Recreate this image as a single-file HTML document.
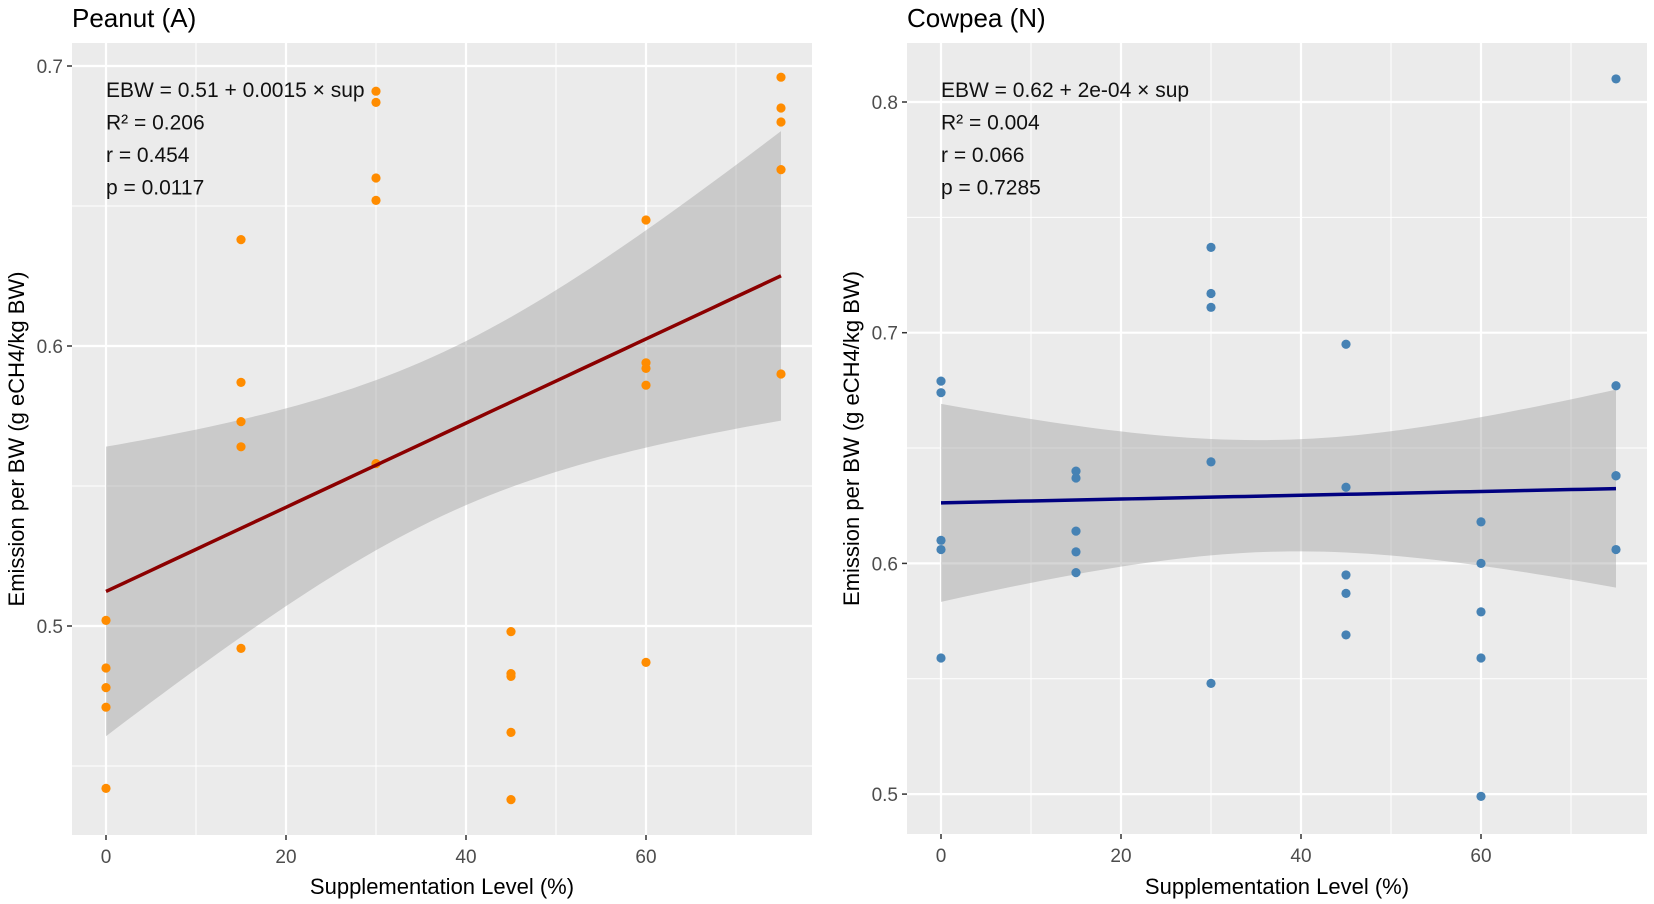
<!DOCTYPE html>
<html><head><meta charset="utf-8"><style>
html,body{margin:0;padding:0;background:#fff;}
svg{display:block;font-family:"Liberation Sans",Arial,sans-serif;}
</style></head><body>
<svg id="chart" width="1654" height="904" viewBox="0 0 1654 904" xmlns="http://www.w3.org/2000/svg"></svg>
<script>
// ---- data ----
const xCategories = [0, 15, 30, 45, 60, 75];
const peanutX = [0,0,0,0,0, 15,15,15,15,15, 30,30,30,30,30, 45,45,45,45,45, 60,60,60,60,60, 75,75,75,75,75];
const peanutY = [0.502,0.485,0.478,0.471,0.442, 0.638,0.587,0.573,0.564,0.492, 0.691,0.687,0.660,0.652,0.558, 0.498,0.483,0.482,0.462,0.438, 0.645,0.594,0.592,0.586,0.487, 0.696,0.685,0.680,0.663,0.590];
const cowpeaX = [0,0,0,0,0, 15,15,15,15,15, 30,30,30,30,30, 45,45,45,45,45, 60,60,60,60,60, 75,75,75,75,75];
const cowpeaY = [0.679,0.674,0.610,0.606,0.559, 0.640,0.637,0.614,0.605,0.596, 0.737,0.717,0.711,0.644,0.548, 0.695,0.633,0.595,0.587,0.569, 0.618,0.600,0.579,0.559,0.499, 0.810,0.677,0.638,0.638,0.606];
const peanutYTicks = [0.5, 0.6, 0.7];
const peanutYMinor = [0.45, 0.55, 0.65];
const cowpeaYTicks = [0.5, 0.6, 0.7, 0.8];
const cowpeaYMinor = [0.55, 0.65, 0.75];
const xTicks = [0, 20, 40, 60];
const xMinor = [10, 30, 50, 70];
const peanutStats = ["EBW = 0.51 + 0.0015 × sup", "R² = 0.206", "r = 0.454", "p = 0.0117"];
const cowpeaStats = ["EBW = 0.62 + 2e-04 × sup", "R² = 0.004", "r = 0.066", "p = 0.7285"];

const svg = document.getElementById('chart');
const NS = 'http://www.w3.org/2000/svg';
function mk(tag, attrs, parent){
  const e = document.createElementNS(NS, tag);
  for (const k in attrs) e.setAttribute(k, attrs[k]);
  (parent||svg).appendChild(e);
  return e;
}

function panel(cfg){
  const g = mk('g', {});
  
  
  const sx = v => cfg.x0 + (v - 0) * cfg.xs;
  const sy = v => cfg.yRef + (cfg.vRef - v) * cfg.ys;
  const bg = mk('rect', {x:cfg.left, y:cfg.top, width:cfg.right-cfg.left, height:cfg.bottom-cfg.top, fill:'#EBEBEB'}, g);
  
  
  cfg.yMinor.forEach(v => mk('line', {x1:cfg.left, x2:cfg.right, y1:sy(v), y2:sy(v), stroke:'#fff', 'stroke-width':1}, g));
  xMinor.forEach(v => mk('line', {x1:sx(v), x2:sx(v), y1:cfg.top, y2:cfg.bottom, stroke:'#fff', 'stroke-width':1}, g));
  cfg.yTicks.forEach(v => {
    mk('line', {x1:cfg.left, x2:cfg.right, y1:sy(v), y2:sy(v), stroke:'#fff', 'stroke-width':2.2}, g);
    mk('line', {x1:cfg.left-5, x2:cfg.left, y1:sy(v), y2:sy(v), stroke:'#333', 'stroke-width':1.5}, g);
    const t = mk('text', {x:cfg.left-9, y:sy(v)+7, 'text-anchor':'end', 'font-size':19, fill:'#4D4D4D'}, g);
    t.textContent = v.toFixed(1);
    
    
  });
  xTicks.forEach(v => {
    mk('line', {x1:sx(v), x2:sx(v), y1:cfg.top, y2:cfg.bottom, stroke:'#fff', 'stroke-width':2.2}, g);
    mk('line', {x1:sx(v), x2:sx(v), y1:cfg.bottom, y2:cfg.bottom+5, stroke:'#333', 'stroke-width':1.5}, g);
    const t = mk('text', {x:sx(v), y:cfg.bottom+28, 'text-anchor':'middle', 'font-size':19, fill:'#4D4D4D'}, g);
    t.textContent = v;
    
    
  });
  const X = cfg.xs_data, Y = cfg.ys_data, n = X.length;
  const mx = X.reduce((a,b)=>a+b,0)/n, my = Y.reduce((a,b)=>a+b,0)/n;
  let sxx=0, sxy=0;
  for (let i=0;i<n;i++){ sxx += (X[i]-mx)**2; sxy += (X[i]-mx)*(Y[i]-my); }
  const b = sxy/sxx, a = my - b*mx;
  let sse = 0; for (let i=0;i<n;i++) sse += (Y[i]-a-b*X[i])**2;
  const s = Math.sqrt(sse/(n-2)), tcrit = 2.05;
  const xmin = Math.min(...X), xmax = Math.max(...X);
  const up = [], lo = [], ln = [];
  for (let k=0;k<=60;k++){
    const xv = xmin + (xmax-xmin)*k/60;
    const yv = a + b*xv;
    const hw = tcrit * s * Math.sqrt(1/n + (xv-mx)**2/sxx);
    up.push(sx(xv)+','+sy(yv+hw));
    lo.unshift(sx(xv)+','+sy(yv-hw));
    ln.push(sx(xv)+','+sy(yv));
  }
  const band = mk('polygon', {points: up.concat(lo).join(' '), fill:'#999', 'fill-opacity':0.4}, g);
  
  
  for (let i=0;i<n;i++){
    const c = mk('circle', {cx:sx(X[i]), cy:sy(Y[i]), r:4.6, fill:cfg.color}, g);
    
    
  }
  const line = mk('polyline', {points: ln.join(' '), fill:'none', stroke:cfg.lineColor, 'stroke-width':3.5}, g);
  
  
  cfg.stats.forEach((s2, i) => {
    const t = mk('text', {x:cfg.x0, y:97 + i*32.5, 'font-size':21, fill:'#111'}, g);
    t.textContent = s2;
    
    
  });
  const title = mk('text', {x:cfg.left, y:27, 'font-size':26, fill:'#000'}, g);
  title.textContent = cfg.title;
  
  
  const xt = mk('text', {x:(cfg.left+cfg.right)/2, y:894, 'text-anchor':'middle', 'font-size':22, fill:'#000'}, g);
  xt.textContent = 'Supplementation Level (%)';
  
  
  const cy = (cfg.top+cfg.bottom)/2;
  const yt = mk('text', {x:cfg.ytx, y:cy, 'text-anchor':'middle', 'font-size':22, fill:'#000', transform:'rotate(-90 '+cfg.ytx+' '+cy+')'}, g);
  yt.textContent = 'Emission per BW (g eCH4/kg BW)';
  
  
}

panel({name:'peanut-panel', title:'Peanut (A)', left:72, right:812, top:43, bottom:835,
  x0:106, xs:9, yRef:66, vRef:0.7, ys:2800, yTicks:peanutYTicks, yMinor:peanutYMinor,
  xs_data:peanutX, ys_data:peanutY, color:'#FF8C00', lineColor:'#8B0000', stats:peanutStats, ytx:24});
panel({name:'cowpea-panel', title:'Cowpea (N)', left:907, right:1647, top:43, bottom:834,
  x0:941, xs:9, yRef:102, vRef:0.8, ys:2307, yTicks:cowpeaYTicks, yMinor:cowpeaYMinor,
  xs_data:cowpeaX, ys_data:cowpeaY, color:'#4682B4', lineColor:'#000080', stats:cowpeaStats, ytx:859});
</script>
</body></html>
